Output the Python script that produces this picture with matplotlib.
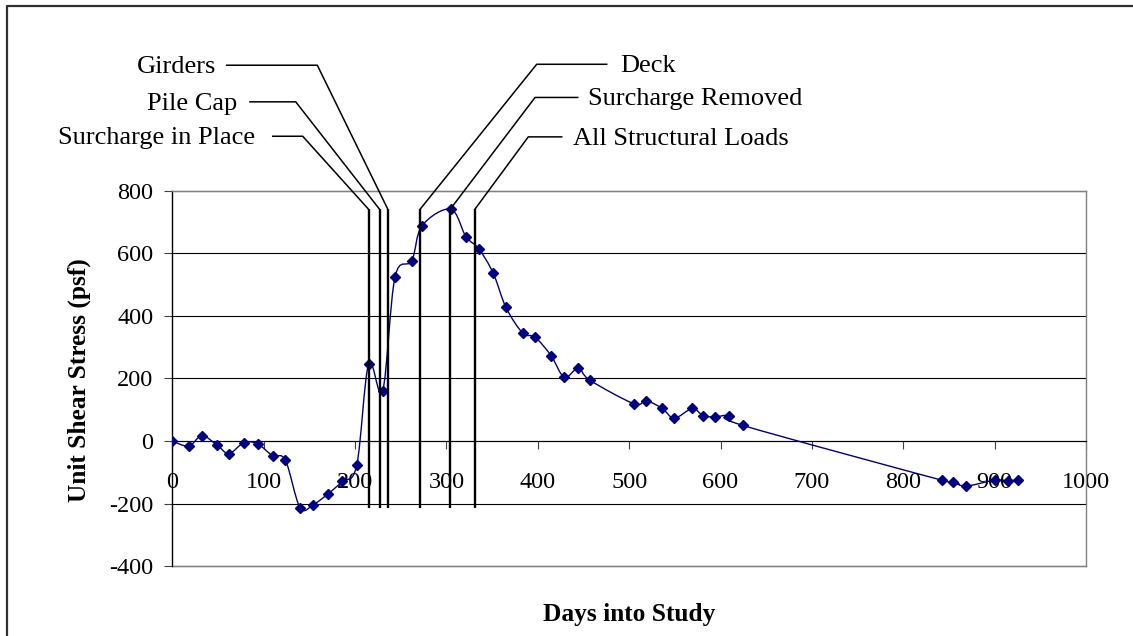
import numpy as np
import matplotlib
matplotlib.use("Agg")
import matplotlib.pyplot as plt
from matplotlib.path import Path
from matplotlib.patches import PathPatch
from matplotlib.lines import Line2D

plt.rcParams["font.family"] = ["Liberation Serif", "DejaVu Serif"]

# Measured unit shear stress over the study period
days = [0, 18, 32.5, 49, 62, 78.5, 93.4, 109.8, 123.7, 139.8, 154.4, 170.8, 186,
        201.8, 214.9, 230.2, 243.7, 262, 273.3, 304.7, 321.4, 335.3, 351.3,
        365.2, 383.5, 397, 414.5, 429, 444.4, 457.2, 505.3, 518.4, 536.3,
        549.4, 569.2, 580.8, 594, 609.3, 624.4, 842, 854.8, 868.3, 900.4,
        915, 926]
stress = [0, -16, 17, -13, -40, -5, -9, -47, -61, -213, -203, -168, -129,
          -78, 247, 160, 524, 576, 688, 741, 653, 615, 536,
          427, 345, 332, 273, 204, 233, 194, 119, 129, 104,
          73, 104, 81, 77, 81, 50, -125, -130, -144, -125,
          -127, -125]

# Construction milestones
event_names = ["Surcharge in Place", "Pile Cap", "Girders",
               "Deck", "Surcharge Removed", "All Structural Loads"]
event_days = [215, 227, 236, 271, 304, 331]

x_ticks = [0, 100, 200, 300, 400, 500, 600, 700, 800, 900, 1000]
y_ticks = [-400, -200, 0, 200, 400, 600, 800]

# Callout geometry (data units): elbow point, end of horizontal run, label anchor
callout_elbow = [(142.7, 974), (135.1, 1084), (158.7, 1201),
                 (398.8, 1204), (397.0, 1098), (389.6, 972)]
callout_run_end = [109.9, 85.0, 59.5, 475.4, 443.7, 426.2]
callout_label_x = [90.5, 71.6, 48.6, 490.7, 455.0, 438.6]
marker_top, marker_bottom = 740, -213

W, H = 1133, 636
fig = plt.figure(figsize=(W / 100, H / 100), dpi=100)
fig.patch.set_facecolor("white")
ax = fig.add_axes([172.3 / W, 1 - 566.2 / H, (1086 - 172.3) / W, (566.2 - 190.7) / H])

ax.set_xlim(0, 1000)
ax.set_ylim(-400, 800)


def smooth_path(xs, ys):
    """Cubic Bezier path through the points (Catmull-Rom style smoothing)."""
    p = np.column_stack([xs, ys]).astype(float)
    ext = np.vstack([p[0], p, p[-1]])
    verts = [tuple(p[0])]
    codes = [Path.MOVETO]
    for i in range(len(p) - 1):
        p0, p1, p2, p3 = ext[i], ext[i + 1], ext[i + 2], ext[i + 3]
        c1 = p1 + (p2 - p0) / 6.0
        c2 = p2 - (p3 - p1) / 6.0
        verts += [tuple(c1), tuple(c2), tuple(p2)]
        codes += [Path.CURVE4] * 3
    return Path(verts, codes)


# Grid lines
for yv in y_ticks:
    ax.axhline(yv, color="black", lw=0.8, zorder=1, clip_on=False)

# Smoothed data line with diamond markers
navy = "#000080"
ax.add_patch(PathPatch(smooth_path(days, stress), facecolor="none",
                       edgecolor=navy, lw=1.0, zorder=3))
ax.plot(days, stress, linestyle="none", marker="D", ms=5.2,
        color=navy, zorder=4)

# Milestone markers and callouts
ax.vlines(event_days, marker_bottom, marker_top, color="black", lw=1.7, zorder=5)
for i, name in enumerate(event_names):
    ex, ey = callout_elbow[i]
    ax.add_line(Line2D([event_days[i], ex, callout_run_end[i]],
                       [marker_top, ey, ey], color="black", lw=1.1,
                       clip_on=False, zorder=5))
    left_side = callout_label_x[i] < ex
    ax.text(callout_label_x[i], ey - 6, name, fontsize=19,
            ha="right" if left_side else "left", va="center", clip_on=False)

# Axes styling
ax.spines["bottom"].set_position(("data", 0))
ax.spines["bottom"].set_color("black")
ax.spines["bottom"].set_linewidth(0.8)
ax.spines["left"].set_color("black")
ax.spines["left"].set_linewidth(1.0)
for s in ("top", "right"):
    ax.spines[s].set_color("#808080")
    ax.spines[s].set_linewidth(1.0)
ax.axhline(-400, color="#808080", lw=1.0, clip_on=False, zorder=2)

ax.set_xticks(x_ticks)
ax.set_yticks(y_ticks)
ax.set_xticklabels([str(v) for v in x_ticks])
ax.set_yticklabels([str(v) for v in y_ticks])
ax.tick_params(axis="x", direction="out", length=5.8, width=0.8, pad=16.5,
               labelsize=17.5, color="#404040")
ax.tick_params(axis="y", direction="out", length=5.8, width=0.8, pad=8,
               labelsize=17.5, color="#404040")

ax.set_xlabel("Days into Study", fontsize=18.3, fontweight="bold")
ax.set_ylabel("Unit Shear Stress (psf)", fontsize=18.3, fontweight="bold")
ax.xaxis.set_label_coords(629 / W, 1 - 615 / H, transform=fig.transFigure)
ax.xaxis.label.set_va("center")
ax.yaxis.set_label_coords(79 / W, 1 - 380 / H, transform=fig.transFigure)
ax.yaxis.label.set_va("center")

# Chart area border (left and top edges)
fig.add_artist(Line2D([7 / W, 7 / W, 1.0], [0.0, 1 - 6 / H, 1 - 6 / H],
                      transform=fig.transFigure, color="#303030", lw=1.6))

fig.savefig("out.png", dpi=100)
